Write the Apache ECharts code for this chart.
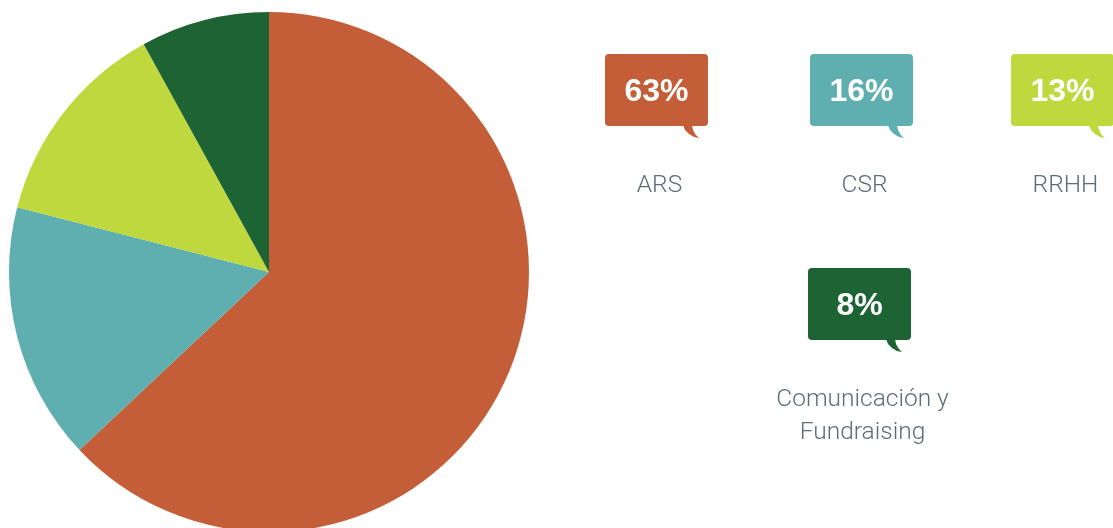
<!DOCTYPE html>
<html>
<head>
<meta charset="utf-8">
<script src="https://cdn.jsdelivr.net/npm/echarts@6/dist/echarts.min.js"></script>
<style>
  html, body { margin: 0; padding: 0; background: #fff; }
  #chart { width: 1113px; height: 528px; }
</style>
</head>
<body>
<div id="chart"></div>
<script>
// data
const categories = ['ARS', 'CSR', 'RRHH', 'Comunicación y\nFundraising'];
const values = [63, 16, 13, 8];
const colors = ['#C45E38', '#5FAFB0', '#BED83D', '#1E6334'];

// where each callout box sits (left, top)
const boxPos = [[605, 54], [810, 54], [1011, 54], [808, 268]];
const boxW = 103, boxH = 72;

const chart = echarts.init(document.getElementById('chart'), null, { renderer: 'canvas' });

let graphics = [];
categories.forEach((name, i) => {
  let [x, y] = boxPos[i];
  let R = x + boxW, B = y + boxH;
  graphics.push({
    type: 'rect', silent: true,
    shape: { x: x, y: y, width: boxW, height: boxH, r: 4 },
    style: { fill: colors[i] }
  });
  // little speech-bubble tail
  graphics.push({
    type: 'polygon', silent: true,
    shape: {
      points: [
        [R - 25, B - 1], [R - 16, B - 1], [R - 15, B + 4], [R - 12.5, B + 8.5],
        [R - 9, B + 12], [R - 14, B + 11], [R - 19, B + 8], [R - 23, B + 4]
      ]
    },
    style: { fill: colors[i] }
  });
  graphics.push({
    type: 'text', silent: true,
    x: x + boxW / 2, y: y + boxH / 2 + 2,
    style: {
      text: values[i] + '%',
      fill: '#fff',
      font: 'bold 32px "Liberation Sans", Arial, sans-serif',
      align: 'center', verticalAlign: 'middle'
    }
  });
  graphics.push({
    type: 'text', silent: true,
    x: x + boxW / 2 + 3, y: B + 43,
    style: {
      text: name,
      fill: '#5d6d78',
      font: '300 24.5px Roboto, "Liberation Sans", sans-serif',
      lineHeight: 33,
      align: 'center', verticalAlign: 'top'
    }
  });
});

let option = {
  backgroundColor: '#fff',
  animation: false,
  color: colors,
  series: [
    {
      type: 'pie',
      center: [269, 272],
      radius: 260,
      startAngle: 90,
      clockwise: true,
      label: { show: false },
      labelLine: { show: false },
      itemStyle: { borderWidth: 0 },
      emphasis: { disabled: true },
      data: categories.map((c, i) => ({ name: c, value: values[i] }))
    }
  ],
  graphic: graphics
};

chart.setOption(option);
</script>
</body>
</html>
